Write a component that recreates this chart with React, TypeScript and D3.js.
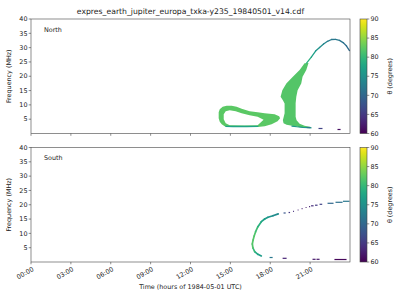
import React from "react";
import * as d3 from "d3";

const TITLE = "expres_earth_jupiter_europa_txka-y235_19840501_v14.cdf";
const xTickHours = [0, 3, 6, 9, 12, 15, 18, 21];
const xTickLabels = ["00:00", "03:00", "06:00", "09:00", "12:00", "15:00", "18:00", "21:00"];
const yTicks = [5, 10, 15, 20, 25, 30, 35, 40];
const cbTicks = [60, 65, 70, 75, 80, 85, 90];

// ---- North hemisphere (hours, MHz, theta deg) ----
const northLoopOuterT = [18.67, 18.33, 17.58, 17.05, 16.45, 15.85, 15.47, 15.1, 14.72, 14.42, 14.2, 14.12, 14.12, 14.2, 14.35, 14.57, 14.95, 17.05, 17.58, 18.1, 18.55, 18.74];
const northLoopOuterF = [6.05, 6.75, 7.1, 7.45, 7.8, 8.68, 9.38, 9.73, 9.73, 9.38, 8.5, 7.45, 5.35, 4.13, 3.25, 2.55, 2.31, 2.31, 2.55, 3.25, 4.3, 5.35];
const northLoopHoleT = [17.5, 17.05, 16.45, 15.85, 15.4, 14.95, 14.65, 14.5, 14.5, 14.65, 14.95, 16.08, 17.05];
const northLoopHoleF = [4.83, 5.88, 6.4, 7.1, 7.8, 8.15, 7.8, 6.75, 5.0, 3.6, 2.9, 2.8, 2.9];
const northLoopTheta = 82.3;

const northBaseT = [14.62, 15.2, 16.2, 17.1];
const northBaseF = [2.5, 2.45, 2.45, 2.5];
const northBaseTheta = 77.5;

const northColumnT = [20.58, 20.88, 20.71, 20.43, 20.33, 20.06, 19.96, 19.91, 19.91, 19.91, 19.98, 20.21, 20.58, 20.96, 21.11, 20.96, 20.43, 19.83, 19.23, 19.0, 18.95, 19.08, 19.08, 18.95, 18.78, 18.91, 19.21, 19.7, 20.21];
const northColumnF = [24.5, 24.6, 22.15, 19.81, 17.5, 15.15, 12.81, 10.6, 8.15, 5.81, 4.65, 3.43, 2.73, 2.38, 2.1, 1.85, 2.03, 2.55, 3.08, 3.6, 4.65, 7.1, 10.5, 11.65, 12.81, 15.15, 17.5, 19.81, 22.15];
const northColumnTheta = 82;

const northTailT = [19.6, 20.0, 20.45, 20.9, 21.1];
const northTailF = [2.6, 2.35, 2.15, 2.0, 1.95];
const northTailTheta = 76;

const northArcT = [20.73, 21.09, 21.41, 21.71, 22.01, 22.31, 22.61, 22.91, 23.21, 23.51, 23.74, 23.96];
const northArcF = [24.6, 26.7, 28.8, 30.03, 31.25, 32.2, 32.83, 32.9, 32.55, 31.67, 30.55, 28.98];
const northArcTheta = [80, 78, 76, 75, 74, 73, 72, 72, 72, 71, 71, 70];

const northDashStart = [20.73, 21.63, 23.06];
const northDashEnd = [21.03, 21.93, 23.29];
const northDashF = [2.1, 1.75, 1.4];
const northDashTheta = [72, 66, 61];

// ---- South hemisphere ----
const southCurveT = [17.33, 17.07, 16.83, 16.7, 16.65, 16.71, 16.79, 16.9, 17.07, 17.33, 17.58, 17.83, 18.2, 18.6];
const southCurveF = [2.1, 2.69, 3.6, 4.89, 6.29, 7.69, 9.08, 10.59, 12.33, 14.08, 15.02, 15.62, 16.17, 16.8];
const southCurveTheta = [76, 77, 79, 81.5, 82, 82, 82, 81.5, 80, 78, 77, 76, 75, 74];

const southDashStart = [17.95, 18.93, 21.18, 21.48, 22.83, 19.0, 19.38, 19.72, 20.06, 20.36, 20.66, 20.92, 21.07, 21.37, 21.71, 22.31, 22.91, 23.47];
const southDashEnd = [18.18, 19.23, 21.41, 21.71, 23.74, 19.16, 19.49, 19.79, 20.13, 20.43, 20.73, 21.0, 21.26, 21.56, 21.91, 22.76, 23.44, 23.96];
const southDashF = [1.57, 1.29, 0.94, 0.94, 0.87, 17.12, 17.29, 17.71, 18.17, 18.62, 19.04, 19.32, 19.63, 19.84, 20.16, 20.51, 20.86, 21.21];
const southDashTheta = [72, 63, 62, 62, 60.5, 68, 65, 64, 63, 63, 62, 63, 64, 65, 66, 70, 71, 72];

const FONT = "DejaVu Sans";
const W = 400, H = 300;
const PL = 31, PR = 350;
const PANELS = [
  { top: 19, bottom: 133.5, name: "North" },
  { top: 147.5, bottom: 262, name: "South" },
];

const color = d3.scaleSequential(d3.interpolateViridis).domain([60, 90]);
const x = d3.scaleLinear().domain([0, 24]).range([PL, PR]);

function Panel({ idx }: { idx: number }) {
  const p = PANELS[idx];
  const y = d3.scaleLinear().domain([0, 40]).range([p.bottom, p.top]);
  const line = d3.line<[number, number]>().x((d) => x(d[0])).y((d) => y(d[1]));
  const closed = (ts: number[], fs: number[]) => line(ts.map((t, i) => [t, fs[i]]))! + "Z";
  const marks: React.ReactNode[] = [];
  if (idx === 0) {
    marks.push(
      <path key="loop" d={closed(northLoopOuterT, northLoopOuterF) + closed(northLoopHoleT, northLoopHoleF)} fill={color(northLoopTheta)} fillRule="evenodd" />
    );
    marks.push(
      <path key="base" d={line(northBaseT.map((t, i) => [t, northBaseF[i]]))!} stroke={color(northBaseTheta)} strokeWidth={1.3} fill="none" />
    );
    marks.push(<path key="col" d={closed(northColumnT, northColumnF)} fill={color(northColumnTheta)} />);
    marks.push(
      <path key="tail" d={line(northTailT.map((t, i) => [t, northTailF[i]]))!} stroke={color(northTailTheta)} strokeWidth={1.2} fill="none" />
    );
    for (let i = 0; i < northArcT.length - 1; i++) {
      marks.push(
        <line key={"arc" + i} x1={x(northArcT[i])} y1={y(northArcF[i])} x2={x(northArcT[i + 1])} y2={y(northArcF[i + 1])}
          stroke={color((northArcTheta[i] + northArcTheta[i + 1]) / 2)} strokeWidth={1.3} strokeLinecap="round" />
      );
    }
    northDashStart.forEach((s, i) => {
      marks.push(
        <line key={"nd" + i} x1={x(s)} x2={x(northDashEnd[i])} y1={y(northDashF[i])} y2={y(northDashF[i])}
          stroke={color(northDashTheta[i])} strokeWidth={1.2} />
      );
    });
  } else {
    for (let i = 0; i < southCurveT.length - 1; i++) {
      marks.push(
        <line key={"sc" + i} x1={x(southCurveT[i])} y1={y(southCurveF[i])} x2={x(southCurveT[i + 1])} y2={y(southCurveF[i + 1])}
          stroke={color((southCurveTheta[i] + southCurveTheta[i + 1]) / 2)} strokeWidth={1.7} strokeLinecap="round" />
      );
    }
    southDashStart.forEach((s, i) => {
      marks.push(
        <line key={"sd" + i} x1={x(s)} x2={x(southDashEnd[i])} y1={y(southDashF[i])} y2={y(southDashF[i])}
          stroke={color(southDashTheta[i])} strokeWidth={1.2} />
      );
    });
  }

  const cbX = 360, cbW = 7;
  const cbY = d3.scaleLinear().domain([60, 90]).range([p.bottom, p.top]);
  const gid = "vir" + idx;
  const stops = d3.range(0, 1.0001, 0.05);
  const midY = (p.top + p.bottom) / 2;

  return (
    <g>
      {marks}
      <rect x={PL} y={p.top} width={PR - PL} height={p.bottom - p.top} fill="none" stroke="#444" strokeWidth={0.6} />
      {yTicks.map((t) => (
        <g key={"yt" + t}>
          <line x1={PL - 2.3} x2={PL} y1={y(t)} y2={y(t)} stroke="#444" strokeWidth={0.6} />
          <text x={PL - 3.5} y={y(t)} dy="0.35em" textAnchor="end" fontSize={6.4} fontFamily={FONT} fill="#222">{t}</text>
        </g>
      ))}
      {xTickHours.map((h, i) => (
        <g key={"xt" + h}>
          <line x1={x(h)} x2={x(h)} y1={p.bottom} y2={p.bottom + 2.3} stroke="#444" strokeWidth={0.6} />
          {idx === 1 && (
            <text transform={`translate(${x(h) + 1},${p.bottom + 4.5}) rotate(-30)`} textAnchor="end" dy="0.7em"
              fontSize={6.4} fontFamily={FONT} fill="#222">{xTickLabels[i]}</text>
          )}
        </g>
      ))}
      <text transform={`translate(10.5,${midY}) rotate(-90)`} textAnchor="middle" fontSize={6.4} fontFamily={FONT} fill="#222">Frequency (MHz)</text>
      <text x={44} y={p.top + 12.5} fontSize={6.4} fontFamily={FONT} fill="#222">{p.name}</text>

      <defs>
        <linearGradient id={gid} x1="0" y1="1" x2="0" y2="0">
          {stops.map((s) => (
            <stop key={s} offset={s} stopColor={d3.interpolateViridis(s)} />
          ))}
        </linearGradient>
      </defs>
      <rect x={cbX} y={p.top} width={cbW} height={p.bottom - p.top} fill={`url(#${gid})`} stroke="#444" strokeWidth={0.6} />
      {cbTicks.map((t) => (
        <g key={"cb" + t}>
          <line x1={cbX + cbW} x2={cbX + cbW + 2.3} y1={cbY(t)} y2={cbY(t)} stroke="#444" strokeWidth={0.6} />
          <text x={cbX + cbW + 3.5} y={cbY(t)} dy="0.35em" fontSize={6.4} fontFamily={FONT} fill="#222">{t}</text>
        </g>
      ))}
      <text transform={`translate(392,${midY}) rotate(-90)`} textAnchor="middle" fontSize={6.4} fontFamily={FONT} fill="#222">θ (degrees)</text>
    </g>
  );
}

export default function App() {
  return (
    <svg width={W} height={H} style={{ position: "absolute", left: 0, top: 0, background: "#fff" }}>
      <rect width={W} height={H} fill="#fff" />
      <text x={(PL + PR) / 2} y={14} textAnchor="middle" fontSize={7.7} fontFamily={FONT} fill="#222">{TITLE}</text>
      <Panel idx={0} />
      <Panel idx={1} />
      <text x={(PL + PR) / 2} y={289} textAnchor="middle" fontSize={6.4} fontFamily={FONT} fill="#222">Time (hours of 1984-05-01 UTC)</text>
    </svg>
  );
}
